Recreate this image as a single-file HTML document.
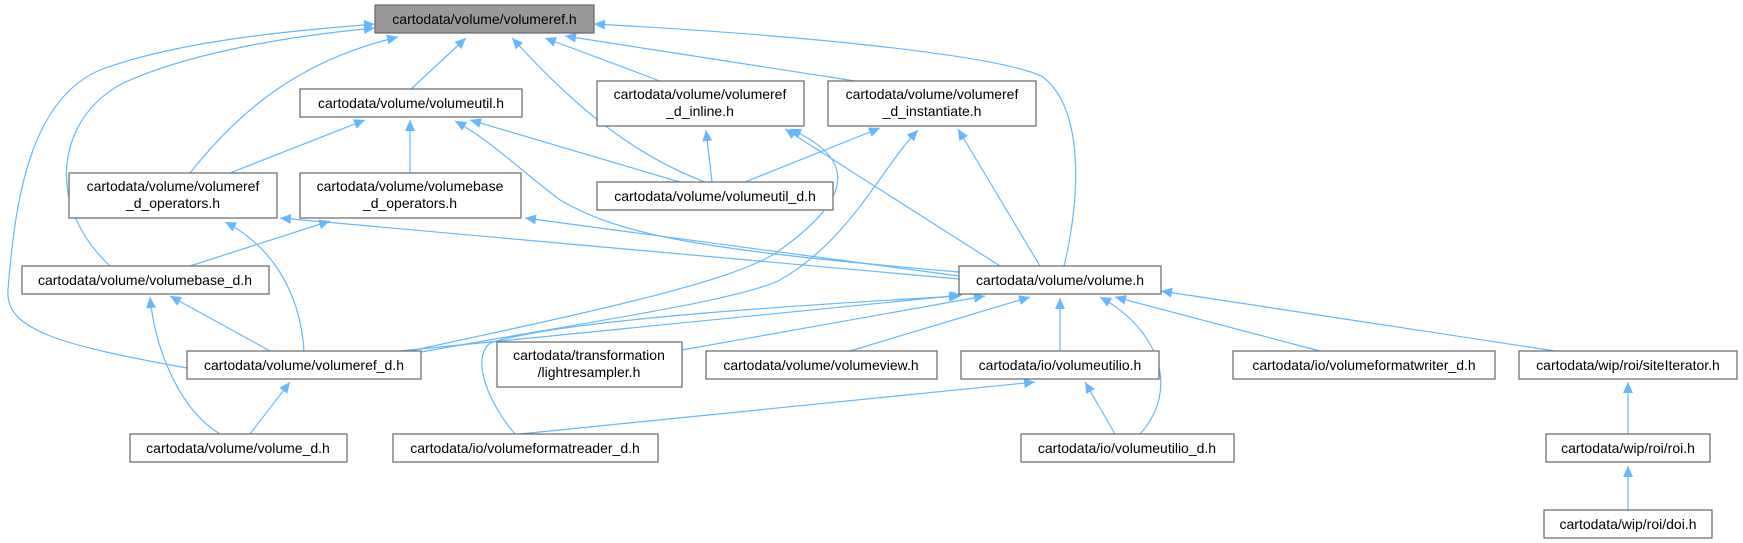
<!DOCTYPE html>
<html><head><meta charset="utf-8"><style>
html,body{margin:0;padding:0;background:#fff;}
svg{display:block;}
text{font-family:"Liberation Sans",sans-serif;font-size:14px;fill:#000;}
.e{fill:none;stroke:#63b8ff;stroke-width:1.2;marker-end:url(#a);}
.n{fill:#fff;stroke:#666;stroke-width:1.2;}
</style></head><body>
<svg width="1743" height="543" viewBox="0 0 1743 543" xmlns="http://www.w3.org/2000/svg">
<defs><marker id="a" markerUnits="userSpaceOnUse" markerWidth="12" markerHeight="12" refX="11" refY="5" orient="auto"><path d="M0,0 L11,5 L0,10 z" fill="#63b8ff"/></marker></defs>
<g>
<path class="e" d="M411,89 L466,38"/>
<path class="e" d="M190,173 C240,110 300,60 398,37"/>
<path class="e" d="M110,266 C40,200 60,110 130,80 C200,50 300,35 375,28"/>
<path class="e" d="M187,368 C60,345 5,330 8,290 C15,200 30,100 100,70 C180,40 300,30 375,24"/>
<path class="e" d="M705,182 C620,150 560,90 512,38"/>
<path class="e" d="M660,81 L545,38"/>
<path class="e" d="M855,81 L565,36"/>
<path class="e" d="M1064,266 C1080,200 1085,110 1043,77 C1000,55 800,35 594,24"/>
<path class="e" d="M230,173 L365,120"/>
<path class="e" d="M410,173 L410,120"/>
<path class="e" d="M680,182 L470,120"/>
<path class="e" d="M959,272 C700,250 620,235 560,200 C520,170 490,140 455,121"/>
<path class="e" d="M190,266 L330,221"/>
<path class="e" d="M304,351 C300,290 270,245 225,222"/>
<path class="e" d="M959,279 L280,218"/>
<path class="e" d="M959,276 L525,218"/>
<path class="e" d="M712,182 L706,130"/>
<path class="e" d="M745,182 L880,128"/>
<path class="e" d="M410,351 C600,310 740,280 780,250 C850,200 860,160 790,129"/>
<path class="e" d="M415,353 C600,320 740,300 780,280 C850,240 880,170 918,130"/>
<path class="e" d="M1000,266 L785,129"/>
<path class="e" d="M1040,266 L958,129"/>
<path class="e" d="M270,351 L170,296"/>
<path class="e" d="M220,434 C180,410 155,350 150,297"/>
<path class="e" d="M250,434 L290,382"/>
<path class="e" d="M400,351 L962,295"/>
<path class="e" d="M682,350 L985,296"/>
<path class="e" d="M850,351 L1030,297"/>
<path class="e" d="M1060,351 L1060,298"/>
<path class="e" d="M515,434 C490,405 470,360 490,343 C560,320 800,305 960,296"/>
<path class="e" d="M1140,434 C1180,390 1160,330 1100,297"/>
<path class="e" d="M1320,351 L1115,297"/>
<path class="e" d="M1555,351 L1161,291"/>
<path class="e" d="M520,434 L1035,382"/>
<path class="e" d="M1115,434 L1085,382"/>
<path class="e" d="M1628,351 L1628,382" style="display:none"/>
<path class="e" d="M1628,434 L1628,382"/>
<path class="e" d="M1628,510 L1628,466"/>
</g>
<g>
<rect x="375" y="5" width="219" height="28" fill="#999" stroke="#666" stroke-width="1.2"/>
<text x="484.5" y="24" text-anchor="middle">cartodata/volume/volumeref.h</text>

<rect class="n" x="300" y="89" width="222" height="28"/>
<text x="411" y="108" text-anchor="middle">cartodata/volume/volumeutil.h</text>

<rect class="n" x="597" y="81" width="207" height="45"/>
<text x="700" y="99" text-anchor="middle">cartodata/volume/volumeref</text>
<text x="700" y="116" text-anchor="middle">_d_inline.h</text>

<rect class="n" x="828" y="81" width="208" height="45"/>
<text x="932" y="99" text-anchor="middle">cartodata/volume/volumeref</text>
<text x="932" y="116" text-anchor="middle">_d_instantiate.h</text>

<rect class="n" x="69" y="173" width="208" height="45"/>
<text x="173" y="191" text-anchor="middle">cartodata/volume/volumeref</text>
<text x="173" y="208" text-anchor="middle">_d_operators.h</text>

<rect class="n" x="300" y="173" width="221" height="45"/>
<text x="410" y="191" text-anchor="middle">cartodata/volume/volumebase</text>
<text x="410" y="208" text-anchor="middle">_d_operators.h</text>

<rect class="n" x="597" y="182" width="236" height="28"/>
<text x="715" y="201" text-anchor="middle">cartodata/volume/volumeutil_d.h</text>

<rect class="n" x="22" y="266" width="247" height="28"/>
<text x="145" y="285" text-anchor="middle">cartodata/volume/volumebase_d.h</text>

<rect class="n" x="959" y="266" width="202" height="28"/>
<text x="1060" y="285" text-anchor="middle">cartodata/volume/volume.h</text>

<rect class="n" x="187" y="351" width="234" height="28"/>
<text x="304" y="370" text-anchor="middle">cartodata/volume/volumeref_d.h</text>

<rect class="n" x="497" y="342" width="185" height="45"/>
<text x="589" y="360" text-anchor="middle">cartodata/transformation</text>
<text x="589" y="377" text-anchor="middle">/lightresampler.h</text>

<rect class="n" x="706" y="351" width="231" height="28"/>
<text x="821" y="370" text-anchor="middle">cartodata/volume/volumeview.h</text>

<rect class="n" x="961" y="351" width="198" height="28"/>
<text x="1060" y="370" text-anchor="middle">cartodata/io/volumeutilio.h</text>

<rect class="n" x="1233" y="351" width="262" height="28"/>
<text x="1364" y="370" text-anchor="middle">cartodata/io/volumeformatwriter_d.h</text>

<rect class="n" x="1519" y="351" width="218" height="28"/>
<text x="1628" y="370" text-anchor="middle">cartodata/wip/roi/siteIterator.h</text>

<rect class="n" x="130" y="434" width="217" height="28"/>
<text x="238" y="453" text-anchor="middle">cartodata/volume/volume_d.h</text>

<rect class="n" x="393" y="434" width="265" height="28"/>
<text x="525" y="453" text-anchor="middle">cartodata/io/volumeformatreader_d.h</text>

<rect class="n" x="1021" y="434" width="213" height="28"/>
<text x="1127" y="453" text-anchor="middle">cartodata/io/volumeutilio_d.h</text>

<rect class="n" x="1546" y="434" width="164" height="28"/>
<text x="1628" y="453" text-anchor="middle">cartodata/wip/roi/roi.h</text>

<rect class="n" x="1544" y="510" width="168" height="28"/>
<text x="1628" y="529" text-anchor="middle">cartodata/wip/roi/doi.h</text>
</g>
</svg>
</body></html>
